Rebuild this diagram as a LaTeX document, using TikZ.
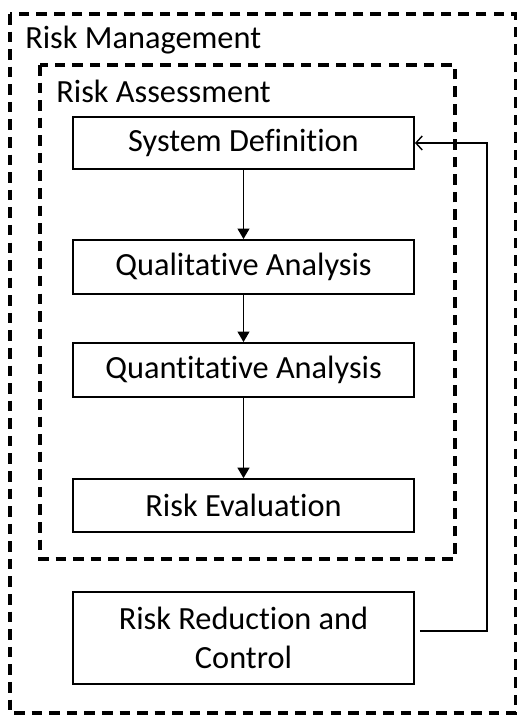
\documentclass[tikz,border=0pt]{standalone}
\usepackage{fontspec}
\setmainfont{Carlito}[Ligatures=NoCommon]
\usetikzlibrary{arrows.meta}

\begin{document}
\begin{tikzpicture}[x=0.025cm,y=-0.025cm,
    stagebox/.style={shape=rectangle,draw,line width=1.3pt,minimum width=8.525cm,font=\fontsize{23}{28}\selectfont},
    groupframe/.style={draw,line width=2.4pt,dash pattern=on 7.5pt off 5pt},
    grouplabel/.style={anchor=west,inner sep=0pt,font=\fontsize{23}{28}\selectfont},
    flow/.style={line width=1pt,-{Triangle[length=7.5pt,width=8.5pt]}},
    back/.style={line width=1pt,-{Straight Barb[length=4.5pt,width=10pt]}}]
    \useasboundingbox (0,0) rectangle (516,715);
    % outer and inner dashed frames (outer right side runs off the edge)
    \draw[groupframe] (10,14) rectangle (516,713);
    \draw[groupframe] (40,65) rectangle (455,559);
    \node[grouplabel] (mgmt)   at (25,40) {Risk Management};
    \node[grouplabel] (assess) at (56,91) {Risk Assessment};
    % stages
    \node[stagebox,minimum height=1.3cm]  (sysdef) at (243.5,143)   {System Definition};
    \node[stagebox,minimum height=1.35cm] (qual)   at (243.5,267)   {Qualitative Analysis};
    \node[stagebox,minimum height=1.35cm] (quant)  at (243.5,370)   {Quantitative Analysis};
    \node[stagebox,minimum height=1.32cm] (riskev) at (243.5,505.5) {Risk Evaluation};
    \node[stagebox,minimum height=2.3cm,align=center] (reduce) at (243.5,638) {Risk Reduction and\\Control};
    % connectors
    \draw[flow] (sysdef) -- (qual);
    \draw[flow] (qual) -- (quant);
    \draw[flow] (quant) -- (riskev);
    \coordinate (turn) at (487,631);
    \draw[back] ([shift={(5,-7)}]reduce.east) -- (turn) |- (sysdef.east);
\end{tikzpicture}
\end{document}
